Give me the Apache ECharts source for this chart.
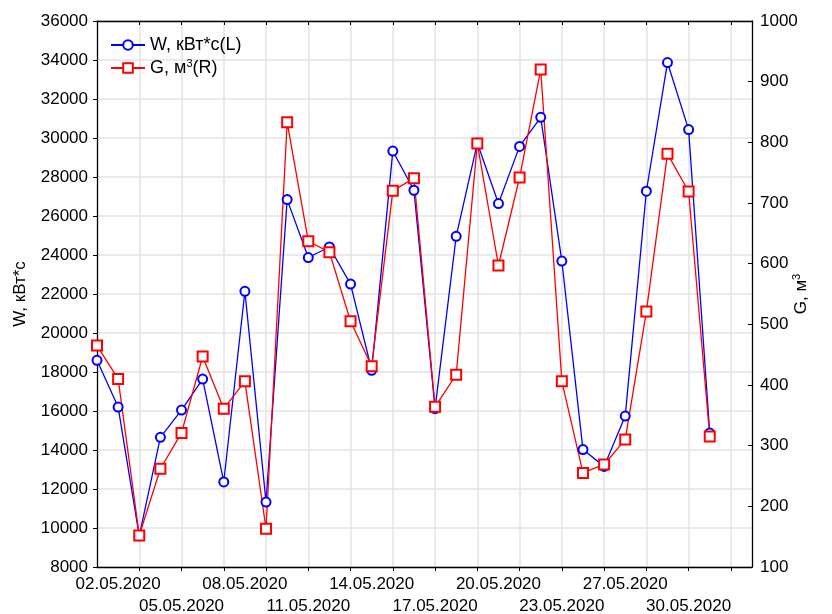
<!DOCTYPE html>
<html>
<head>
<meta charset="utf-8">
<script src="https://cdn.jsdelivr.net/npm/echarts@6/dist/echarts.min.js"></script>
<style>
html,body{margin:0;padding:0;background:#fff;}
#chart{width:832px;height:614px;}
</style>
</head>
<body>
<div id="chart"></div>
<script>
// Dates of the 30 cases (one day skipped between 23.05 and 27.05)
var dates = ['01.05.2020','02.05.2020','03.05.2020','04.05.2020','05.05.2020','06.05.2020','07.05.2020','08.05.2020','09.05.2020','10.05.2020',
  '11.05.2020','12.05.2020','13.05.2020','14.05.2020','15.05.2020','16.05.2020','17.05.2020','18.05.2020','19.05.2020','20.05.2020',
  '21.05.2020','22.05.2020','23.05.2020','24.05.2020','26.05.2020','27.05.2020','28.05.2020','29.05.2020','30.05.2020','31.05.2020'];
// W, kW*s (left axis)
var wValues = [18600,16200,9600,14650,16050,17640,12360,22140,11330,26840,
  23870,24410,22510,18090,29330,27320,16120,24960,29740,26640,
  29570,31060,23690,14020,13160,15740,27270,33870,30430,14870];
// G, m3 (right axis)
var gValues = [465,410,152,262,321,447,361,406,163,833,
  637,619,505,431,720,741,364,417,798,597,
  742,920,406,255,269,310,521,781,719,315];
var leftTicks = {min:8000, max:36000, step:2000};
var rightTicks = {min:100, max:1000, step:100};
// tick labels shown on the category axis, in two staggered rows
var labelRow1 = ['02.05.2020','08.05.2020','14.05.2020','20.05.2020','27.05.2020'];
var labelRow2 = ['05.05.2020','11.05.2020','17.05.2020','23.05.2020','30.05.2020'];

var categories = dates.concat(['', '']);
var FONT = 'Liberation Sans, Arial, sans-serif';

var chart = echarts.init(document.getElementById('chart'), null, {renderer:'canvas'});
var tickInterval = function(i){ return i > 0 && i % 2 === 0; };
var plain = function(v){ return String(v); };
var rowInterval = function(row){ return function(i){ return row.indexOf(categories[i]) >= 0; }; };
var option = {
  backgroundColor: '#fff',
  animation: false,
  textStyle: {fontFamily: FONT},
  grid: {left: 97, right: 80, top: 21, bottom: 47, outerBoundsMode: 'none', containLabel: false},
  legend: {
    left: 105, top: 31, orient: 'vertical', itemGap: 4,
    itemWidth: 34, itemHeight: 12,
    textStyle: {fontFamily: FONT, fontSize: 18, color: '#000',
      rich: {sup: {fontSize: 11, verticalAlign: 'top', padding: [0,0,9,0], fontFamily: FONT}, n:{fontSize:18,fontFamily:FONT}}},
    formatter: function(name){
      if (name === 'G') return '{n|G, м}{sup|3}{n|(R)}';
      return 'W, кВт*с(L)';
    },
    data: ['W', 'G']
  },
  xAxis: [{
    type: 'category', data: categories, boundaryGap: false,
    axisLine: {lineStyle: {color: '#000', width: 1.3}},
    axisTick: {show: true, inside: false, length: 4, interval: tickInterval, lineStyle:{color:'#000'}},
    splitLine: {show: true, interval: tickInterval, lineStyle: {color: '#e3e3e3', width: 1.5}},
    axisLabel: {interval: rowInterval(labelRow1), hideOverlap: false,
      color: '#000', fontSize: 17, fontFamily: FONT, margin: 9}
  }, {
    type: 'category', data: categories, boundaryGap: false, position: 'bottom',
    axisLine: {show: false}, axisTick: {show: false}, splitLine: {show: false},
    axisLabel: {interval: rowInterval(labelRow2), hideOverlap: false,
      color: '#000', fontSize: 17, fontFamily: FONT, margin: 31}
  }, {
    type: 'category', data: categories, boundaryGap: false, position: 'top',
    axisLine: {lineStyle: {color: '#000', width: 1.3}},
    axisTick: {show: true, inside: true, length: 4, interval: tickInterval, lineStyle:{color:'#000'}},
    axisLabel: {show: false}, splitLine: {show: false}
  }],
  yAxis: [{
    type: 'value', min: leftTicks.min, max: leftTicks.max, interval: leftTicks.step,
    name: 'W, кВт*с', nameLocation: 'middle', nameGap: 68, nameRotate: 90, nameMoveOverlap: false,
    nameTextStyle: {fontSize: 17, color: '#000', fontFamily: FONT},
    axisLine: {show: true, lineStyle: {color: '#000', width: 1.3}},
    axisTick: {show: true, inside: false, length: 4, lineStyle:{color:'#000'}},
    splitLine: {show: true, lineStyle: {color: '#e3e3e3', width: 1.5}},
    axisLabel: {color: '#000', fontSize: 17, fontFamily: FONT, margin: 9, formatter: plain}
  }, {
    type: 'value', min: rightTicks.min, max: rightTicks.max, interval: rightTicks.step, position: 'right',
    name: '{n|G, м}{sup|3}', nameLocation: 'middle', nameGap: 39, nameRotate: 90, nameMoveOverlap: false,
    nameTextStyle: {fontSize: 17, color: '#000', fontFamily: FONT,
      rich: {n: {fontSize: 17, fontFamily: FONT}, sup: {fontSize: 11, verticalAlign: 'top', padding: [0,0,9,0], fontFamily: FONT}}},
    axisLine: {show: true, lineStyle: {color: '#000', width: 1.3}},
    axisTick: {show: true, inside: true, length: 4, lineStyle:{color:'#000'}},
    splitLine: {show: false},
    axisLabel: {color: '#000', fontSize: 17, fontFamily: FONT, margin: 8, formatter: plain}
  }],
  series: [{
    name: 'W', type: 'line', xAxisIndex: 0, yAxisIndex: 0, data: wValues,
    symbol: 'emptyCircle', symbolSize: 9, showAllSymbol: true,
    lineStyle: {color: '#0000ff', width: 1.3},
    itemStyle: {color: '#0000ff', borderWidth: 1.3}
  }, {
    name: 'G', type: 'line', xAxisIndex: 0, yAxisIndex: 1, data: gValues,
    symbol: 'emptyRect', symbolSize: 10, showAllSymbol: true,
    lineStyle: {color: '#ff0000', width: 1.3},
    itemStyle: {color: '#ff0000', borderWidth: 1.3}
  }]
};
chart.setOption(option);
</script>
</body>
</html>
